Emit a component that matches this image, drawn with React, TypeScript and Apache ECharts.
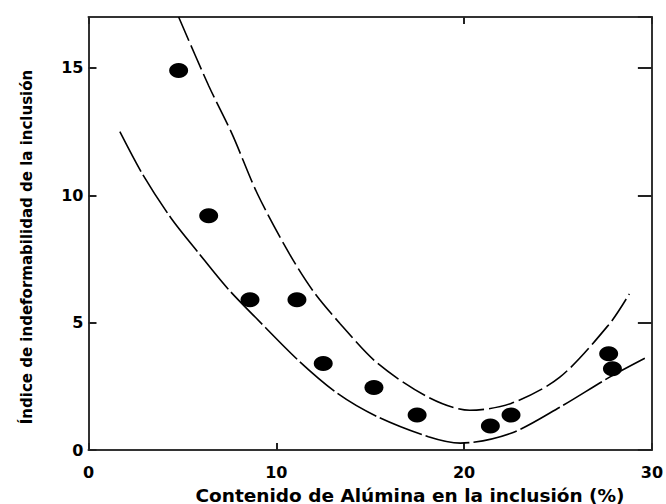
import React, { useEffect, useRef } from "react";
import * as echarts from "echarts";

const pointsX = [4.8, 6.4, 8.6, 11.1, 12.5, 15.2, 17.5, 21.4, 22.5, 27.7, 27.9];
const pointsY = [14.9, 9.2, 5.9, 5.9, 3.4, 2.45, 1.37, 0.94, 1.37, 3.78, 3.19];

const upperX = [4.8, 6.4, 7.65, 9.0, 10.7, 12.0, 13.4, 15.4, 18.1, 20.3, 22.5, 25.1, 27.75, 28.8];
const upperY = [17.0, 14.3, 12.4, 10.05, 7.7, 6.2, 4.96, 3.4, 2.07, 1.56, 1.83, 2.86, 4.96, 6.13];

const lowerX = [1.67, 2.9, 4.4, 5.9, 7.4, 8.9, 11.2, 13.3, 15.4, 18.1, 19.8, 22.5, 25.1, 27.75, 29.7];
const lowerY = [12.5, 10.8, 9.1, 7.7, 6.35, 5.2, 3.5, 2.2, 1.3, 0.52, 0.27, 0.66, 1.68, 2.86, 3.63];

const xTitle = "Contenido de Alúmina en la inclusión (%)";
const yTitle = "Índice de indeformabilidad de la inclusión";

const zip = (a: number[], b: number[]) => a.map((v, i) => [v, b[i]]);

export default function App() {
  const ref = useRef<HTMLDivElement>(null);
  useEffect(() => {
    if (!ref.current) return;
    const chart = echarts.init(ref.current, null, { renderer: "svg" });
    const font = "'DejaVu Sans', sans-serif";
    const axisLine = { show: true, onZero: false, lineStyle: { color: "#333", width: 2 } };
    const tickStyle = { color: "#222", width: 2 };
    chart.setOption({
      animation: false,
      backgroundColor: "#fff",
      grid: { left: 88.5, top: 17, right: 10, bottom: 54, containLabel: false },
      xAxis: [
        {
          type: "value",
          min: 0,
          max: 30,
          interval: 10,
          position: "bottom",
          axisLine,
          axisTick: { show: true, inside: true, length: 7, lineStyle: tickStyle },
          splitLine: { show: false },
          axisLabel: {
            color: "#000",
            fontWeight: "bold",
            fontSize: 16,
            fontFamily: font,
            margin: 14,
          },
        },
        {
          type: "value",
          min: 0,
          max: 30,
          interval: 20,
          position: "top",
          axisLine,
          axisTick: { show: true, inside: true, length: 7, lineStyle: tickStyle },
          splitLine: { show: false },
          axisLabel: { show: false },
        },
      ],
      yAxis: [
        {
          type: "value",
          min: 0,
          max: 17,
          interval: 5,
          position: "left",
          axisLine,
          axisTick: { show: true, inside: true, length: 8, lineStyle: tickStyle },
          splitLine: { show: false },
          axisLabel: {
            color: "#000",
            fontWeight: "bold",
            fontSize: 16,
            fontFamily: font,
            margin: 5,
            showMaxLabel: false,
          },
        },
        {
          type: "value",
          min: 0,
          max: 17,
          interval: 5,
          position: "right",
          axisLine,
          axisTick: { show: true, inside: true, length: 14, lineStyle: tickStyle },
          splitLine: { show: false },
          axisLabel: { show: false },
        },
      ],
      graphic: [
        {
          type: "text",
          x: 410,
          y: 495,
          style: {
            text: xTitle,
            fill: "#000",
            font: `bold 18.5px ${font}`,
            align: "center",
            verticalAlign: "middle",
          },
        },
        {
          type: "text",
          x: 27,
          y: 247,
          rotation: Math.PI / 2,
          style: {
            text: yTitle,
            fill: "#000",
            font: `bold 15px ${font}`,
            align: "center",
            verticalAlign: "middle",
          },
        },
      ],
      series: [
        {
          type: "line",
          data: zip(upperX, upperY),
          smooth: 0.3,
          showSymbol: false,
          clip: true,
          lineStyle: { color: "#000", width: 1.6, type: [26, 5] },
        },
        {
          type: "line",
          data: zip(lowerX, lowerY),
          smooth: 0.3,
          showSymbol: false,
          clip: true,
          lineStyle: { color: "#000", width: 1.6, type: [45, 4] },
        },
        {
          type: "scatter",
          data: zip(pointsX, pointsY),
          symbol: "circle",
          symbolSize: [19, 15],
          itemStyle: { color: "#000", opacity: 1 },
        },
      ],
    });
    return () => chart.dispose();
  }, []);
  return (
    <div
      ref={ref}
      style={{ position: "absolute", left: 0, top: 0, width: 666, height: 504, background: "#fff" }}
    />
  );
}
